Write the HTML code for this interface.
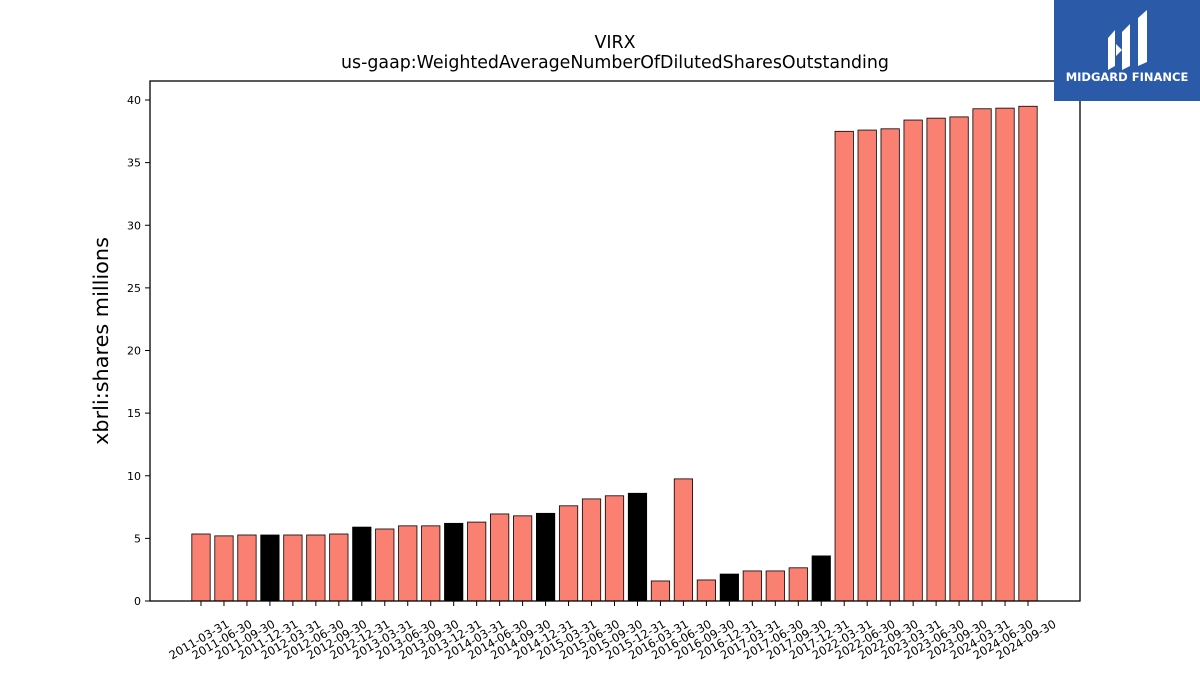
<!DOCTYPE html>
<html><head><meta charset="utf-8"><style>
body{margin:0;background:#fff;}
svg{display:block;font-family:"DejaVu Sans","Liberation Sans",sans-serif;}
</style></head><body>
<svg id="chart" width="1200" height="675">
<text x="615" y="48" text-anchor="middle" font-size="17.4">VIRX</text>
<text x="615" y="68" text-anchor="middle" font-size="17.4">us-gaap:WeightedAverageNumberOfDilutedSharesOutstanding</text>
<text transform="translate(108,341) rotate(-90)" text-anchor="middle" font-size="20.8">xbrli:shares millions</text>
<g id="bars"></g>
<g id="yticks"></g>
<g id="xticks"></g>
<rect x="150" y="81" width="930" height="520" fill="none" stroke="#000" stroke-width="1.3"/>
<g>
<rect x="1054" y="0" width="146" height="101" fill="#2a5aa8"/>
<path d="M1108 38 L1115 30 L1115 66 L1108 70 Z M1122 32 L1130 24 L1130 66 L1122 70 Z M1116 44 L1122 50 L1116 56 Z M1138 18 L1147 10 L1147 62 L1138 66 Z" fill="#fff"/>
<text x="1127" y="81" text-anchor="middle" font-size="11.5" font-weight="bold" fill="#fff">MIDGARD FINANCE</text>
</g>
</svg>
<script>
const categories=["2011-03-31","2011-06-30","2011-09-30","2011-12-31","2012-03-31","2012-06-30","2012-09-30","2012-12-31","2013-03-31","2013-06-30","2013-09-30","2013-12-31","2014-03-31","2014-06-30","2014-09-30","2014-12-31","2015-03-31","2015-06-30","2015-09-30","2015-12-31","2016-03-31","2016-06-30","2016-09-30","2016-12-31","2017-03-31","2017-06-30","2017-09-30","2017-12-31","2022-03-31","2022-06-30","2022-09-30","2023-03-31","2023-06-30","2023-09-30","2024-03-31","2024-06-30","2024-09-30"];
const values=[5.35,5.2,5.27,5.27,5.27,5.27,5.35,5.9,5.75,6.0,6.0,6.2,6.3,6.95,6.8,7.0,7.6,8.15,8.4,8.6,1.6,9.75,1.68,2.15,2.4,2.4,2.65,3.6,37.5,37.6,37.7,38.4,38.55,38.65,39.3,39.35,39.5];
const yTicks=[0,5,10,15,20,25,30,35,40];
const NS="http://www.w3.org/2000/svg";
const y0=601,pxPerUnit=(601-100)/40;
const yScale=v=>y0-v*pxPerUnit;
const step=(1028-201)/(categories.length-1);
const xScale=i=>201+i*step;
const bw=step*0.8;
function mk(tag,attrs,parent){const e=document.createElementNS(NS,tag);for(const k in attrs)e.setAttribute(k,attrs[k]);parent.appendChild(e);return e;}
const bars=document.getElementById('bars'),yt=document.getElementById('yticks'),xt=document.getElementById('xticks');
values.forEach((v,i)=>{
  const q4=categories[i].endsWith('12-31');
  const r=mk('rect',{x:xScale(i)-bw/2,y:yScale(v),width:bw,height:y0-yScale(v),fill:q4?'#000':'#fa8072',stroke:'#000','stroke-width':0.8},bars);
  
  
});
yTicks.forEach(t=>{
  const y=yScale(t);
  mk('line',{x1:145,x2:150,y1:y,y2:y,stroke:'#000'},yt);
  const tx=mk('text',{x:141,y:y+4,'text-anchor':'end','font-size':11},yt);
  tx.textContent=t;
  
  
});
categories.forEach((c,i)=>{
  const x=xScale(i);
  mk('line',{x1:x,x2:x,y1:601,y2:606,stroke:'#000'},xt);
  const tx=mk('text',{transform:`translate(${x},${643}) rotate(-30)`,'text-anchor':'middle','font-size':11.5},xt);
  tx.textContent=c;
  
  
});
</script>
</body></html>
